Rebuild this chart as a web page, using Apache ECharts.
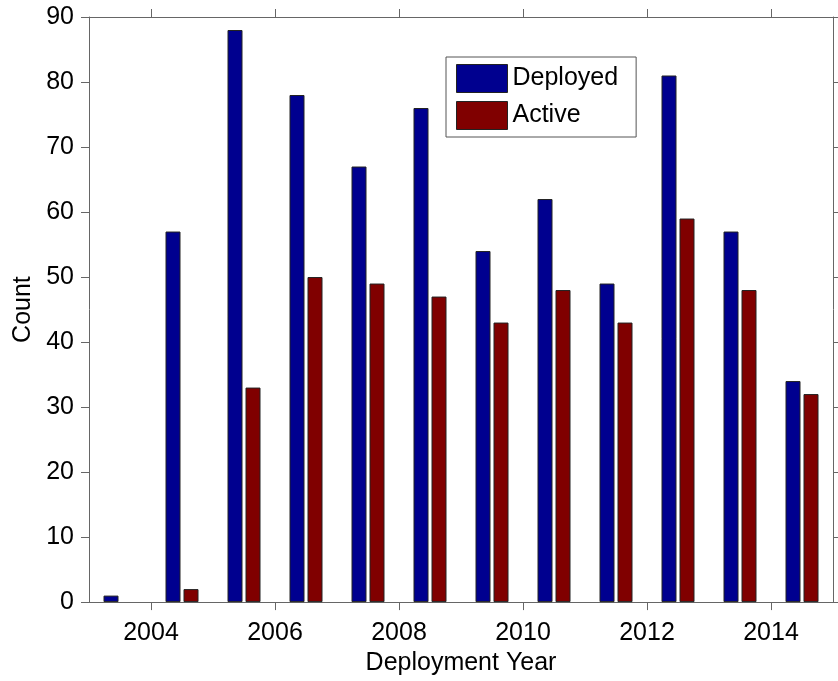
<!DOCTYPE html>
<html>
<head>
<meta charset="utf-8">
<title>Deployment Year counts</title>
<script src="https://cdn.jsdelivr.net/npm/echarts@6/dist/echarts.min.js"></script>
<style>
  html, body { margin: 0; padding: 0; background: #ffffff; }
  #chart { width: 838px; height: 681px; }
</style>
</head>
<body>
<div id="chart"></div>
<script>
// Yearly counts of deployed and still-active units
const years = ['2003', '2004', '2005', '2006', '2007', '2008', '2009', '2010', '2011', '2012', '2013', '2014'];
const deployed = [1, 57, 88, 78, 67, 76, 54, 62, 49, 81, 57, 34];
const active = [0, 2, 33, 50, 49, 47, 43, 48, 43, 59, 48, 32];
const yearTicks = [2004, 2006, 2008, 2010, 2012, 2014];
const countTicks = { min: 0, max: 90, step: 10 };

const FONT = "'Liberation Sans', Arial, Helvetica, sans-serif";
const AXIS_COLOR = '#666666';
const EDGE_COLOR = '#222222';

const chart = echarts.init(document.getElementById('chart'), null, { renderer: 'canvas' });

const boxAxisLine = { show: true, onZero: false, lineStyle: { color: AXIS_COLOR, width: 1 } };
const boxTick = { show: true, inside: false, length: 8, lineStyle: { color: AXIS_COLOR, width: 1 } };

// zero-height bars get no outline so nothing shows on the baseline
const barItems = values => values.map(v => (v === 0
  ? { value: v, itemStyle: { borderWidth: 0 } }
  : v));

const option = {
  backgroundColor: '#ffffff',
  animation: false,
  textStyle: { fontFamily: FONT },
  grid: { left: 89, right: 5, top: 17, bottom: 77, containLabel: false },
  legend: {
    orient: 'vertical',
    left: 446,
    top: 57,
    padding: [7, 18, 7, 10],
    itemWidth: 51,
    itemHeight: 28,
    itemGap: 8,
    itemStyle: { borderColor: EDGE_COLOR, borderWidth: 1 },
    backgroundColor: '#ffffff',
    borderColor: '#555555',
    borderWidth: 1,
    borderRadius: 0,
    icon: 'rect',
    textStyle: { fontFamily: FONT, fontSize: 25, color: '#000000' },
    data: ['Deployed', 'Active']
  },
  xAxis: [
    {
      // band axis carrying the bar groups, one band per year
      type: 'category',
      data: years,
      boundaryGap: true,
      position: 'bottom',
      show: false
    },
    {
      type: 'value',
      position: 'bottom',
      min: 2003,
      max: 2015,
      name: 'Deployment Year',
      nameLocation: 'middle',
      nameGap: 43,
      nameTextStyle: { fontFamily: FONT, fontSize: 25, color: '#000000' },
      axisLine: boxAxisLine,
      axisTick: Object.assign({ customValues: yearTicks }, boxTick),
      axisLabel: {
        customValues: yearTicks,
        fontFamily: FONT, fontSize: 25, color: '#000000', margin: 19,
        formatter: v => String(v)
      },
      splitLine: { show: false }
    },
    {
      type: 'value',
      position: 'top',
      min: 2003,
      max: 2015,
      axisLine: boxAxisLine,
      axisTick: Object.assign({ customValues: yearTicks }, boxTick),
      axisLabel: { show: false },
      splitLine: { show: false }
    }
  ],
  yAxis: [
    {
      type: 'value',
      position: 'left',
      min: countTicks.min,
      max: countTicks.max,
      interval: countTicks.step,
      name: 'Count',
      nameLocation: 'middle',
      nameGap: 52,
      nameRotate: 90,
      nameTextStyle: { fontFamily: FONT, fontSize: 25, color: '#000000' },
      axisLine: boxAxisLine,
      axisTick: boxTick,
      axisLabel: { fontFamily: FONT, fontSize: 25, color: '#000000', margin: 15 },
      splitLine: { show: false }
    },
    {
      type: 'value',
      position: 'right',
      min: countTicks.min,
      max: countTicks.max,
      interval: countTicks.step,
      axisLine: boxAxisLine,
      axisTick: boxTick,
      axisLabel: { show: false },
      splitLine: { show: false }
    }
  ],
  series: [
    {
      name: 'Deployed',
      type: 'bar',
      xAxisIndex: 0,
      yAxisIndex: 0,
      data: barItems(deployed),
      barWidth: 15,
      barGap: '20%',
      itemStyle: { color: '#00008f', borderColor: EDGE_COLOR, borderWidth: 1 }
    },
    {
      name: 'Active',
      type: 'bar',
      xAxisIndex: 0,
      yAxisIndex: 0,
      data: barItems(active),
      barWidth: 15,
      barGap: '20%',
      itemStyle: { color: '#800000', borderColor: EDGE_COLOR, borderWidth: 1 }
    }
  ]
};

chart.setOption(option);
</script>
</body>
</html>
